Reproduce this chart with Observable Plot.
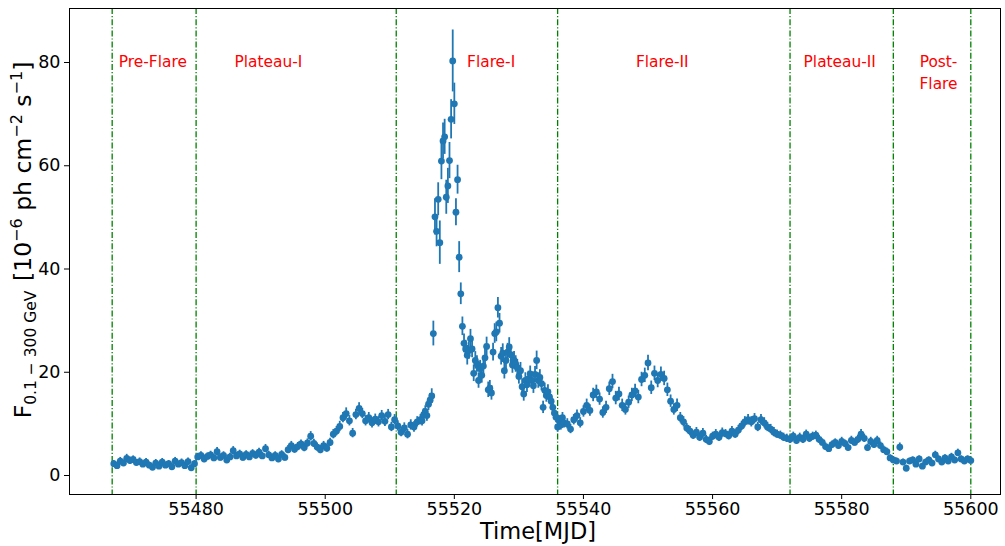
<!DOCTYPE html>
<html>
<head>
<meta charset="utf-8">
<script src="https://cdn.jsdelivr.net/npm/d3@7"></script>
<script src="https://cdn.jsdelivr.net/npm/@observablehq/plot@0.6"></script>
<style>
html, body { margin: 0; padding: 0; background: #fff; }
#chart svg { display: block; }
</style>
</head>
<body>
<div id="chart"></div>
<script>
// ---- Data (flux in 1e-6 ph cm^-2 s^-1) ----
// Each block: start MJD of first bin, bin width (days), flux values, 1-sigma errors.
const preFlareStart = 55467.25, preFlareStep = 0.5;
const preFlareFlux = [2.3,1.9,2.8,2.4,3.3,2.9,3.1,2.5,2.7,2.2,2.6,2.0,1.6,2.4,1.8,2.6,2.0,2.3,1.7,2.8,2.2,2.5,1.9,2.7,1.5,2.3];
const preFlareErr  = [0.6,0.6,0.7,0.6,0.8,0.7,0.7,0.6,0.7,0.6,0.7,0.6,0.6,0.7,0.6,0.7,0.6,0.6,0.6,0.7,0.6,0.7,0.6,0.7,0.6,0.6];

const plateau1Start = 55480.25, plateau1Step = 0.5;
const plateau1Flux = [3.6,3.9,3.2,3.7,4.0,3.4,4.6,3.5,3.9,3.0, 3.6,4.8,3.8,4.2,3.5,4.1,3.6,4.3,3.9,4.5,
                      3.8,5.2,4.0,3.4,3.9,3.2,4.1,3.5,5.0,5.8, 5.1,5.6,6.1,5.4,6.3,7.6,6.2,5.5,5.0,5.8,
                      5.3,6.4,8.0,8.6,9.5,11.2,12.0,10.6,8.2,11.8, 13.0,12.0,10.6,11.2,10.2,10.9,10.4,11.6,10.5,11.8,
                      9.4,10.8];
const plateau1Err  = [0.7,0.7,0.7,0.7,0.7,0.7,0.8,0.7,0.7,0.6, 0.7,0.8,0.7,0.7,0.7,0.7,0.7,0.7,0.7,0.8,
                      0.7,0.8,0.7,0.7,0.7,0.7,0.7,0.7,0.8,0.8, 0.8,0.8,0.8,0.8,0.8,0.9,0.8,0.8,0.8,0.8,
                      0.8,0.8,0.9,0.9,1.0,1.0,1.1,1.0,0.9,1.0, 1.1,1.0,1.0,1.0,1.0,1.0,1.0,1.0,1.0,1.0,
                      0.9,1.0];

const flare1OnsetStart = 55511.25, flare1OnsetStep = 0.5;
const flare1OnsetFlux = [9.6,8.4,9.2,8.0,9.8,9.4,10.4,10.8];
const flare1OnsetErr  = [1.0,0.9,1.0,0.9,1.0,1.0,1.0,1.0];

const flare1Start = 55515.0, flare1Step = 0.25;
const flare1Flux = [10.6,11.8,12.4,11.6,13.8,14.6,15.4,27.5,50.1,47.3,
                    53.5,45.1,60.9,64.8,65.6,53.9,56.1,61.0,69.0,80.3,
                    72.0,51.0,57.3,42.3,35.2,28.9,
                    25.6,24.5,23.3,24.2,26.5,24.5,19.8,22.3,21.6,18.4,
                    20.7,19.4,21.2,22.8,25.0,16.6,16.9,16.0,23.9,27.5,
                    27.8,32.5,29.5,23.1,23.7,20.3,22.3,23.9,24.9,23.4,
                    21.4,22.3,21.6,20.9,19.2,20.3,17.2,15.8,18.4,17.6,
                    18.7,19.7,18.4,17.4,19.6,22.3,18.4,19.0,17.8,13.2,
                    16.5,15.5,16.2,15.2,14.4,13.2,12.1,11.3,9.4,10.6,
                    9.8,11.2,10.2];
const flare1Err  = [1.0,1.1,1.1,1.1,1.2,1.3,1.4,2.4,3.5,3.0,
                    3.2,4.2,3.6,3.5,3.4,3.3,3.4,3.5,3.8,6.0,
                    4.0,2.6,2.8,3.0,2.1,1.8,
                    1.8,1.7,1.9,1.7,1.8,1.7,1.6,1.7,1.6,1.5,
                    1.6,1.5,1.6,1.7,1.8,1.5,1.5,1.4,1.7,1.9,
                    1.9,2.0,1.9,1.7,1.8,1.6,1.7,1.7,1.8,1.7,
                    1.6,1.7,1.6,1.6,1.5,1.6,1.5,1.4,1.5,1.5,
                    1.5,1.5,1.5,1.5,1.5,1.8,1.5,1.5,1.4,1.2,
                    1.4,1.3,1.4,1.3,1.3,1.2,1.1,1.1,1.0,1.0,
                    1.0,1.0,1.0];

const flare2Start = 55537.5, flare2Step = 0.5;
const flare2Flux = [10.0,9.0,10.8,11.6,10.2,12.4,13.6,12.6,15.6,16.2,
                    14.8,12.2,13.2,16.8,18.2,15.0,15.8,13.6,12.8,14.2,
                    15.6,16.4,15.2,18.6,19.4,21.8,17.0,19.8,18.4,19.6,
                    18.8,16.6,14.4,12.8,13.6,11.2,10.4,9.2,8.6,7.8,
                    8.4,7.4,8.2,7.0,6.6,7.6,8.0,7.4,8.3,8.1,
                    7.7,8.6,8.0,8.8,9.6,10.4,10.8,10.4,11.0,9.4,
                    10.8,10.2,9.4,9.0,8.4,8.0,7.8,7.4,7.2];
const flare2Err  = [1.0,0.9,1.0,1.1,1.0,1.1,1.2,1.1,1.3,1.3,
                    1.2,1.1,1.2,1.3,1.4,1.3,1.3,1.2,1.1,1.2,
                    1.3,1.3,1.3,1.4,1.4,1.5,1.3,1.4,1.4,1.4,
                    1.4,1.3,1.2,1.1,1.2,1.0,1.0,0.9,0.9,0.8,
                    0.9,0.8,0.9,0.8,0.8,0.8,0.9,0.8,0.9,0.8,
                    0.8,0.9,0.8,0.9,0.9,1.0,1.0,1.0,1.0,0.9,
                    1.0,1.0,0.9,0.9,0.9,0.8,0.8,0.8,0.8];

const plateau2Start = 55572.0, plateau2Step = 0.5;
const plateau2Flux = [7.0,7.6,6.8,7.4,7.0,8.0,7.2,7.6,7.8,7.0,
                      6.4,5.6,5.2,6.0,6.4,5.8,6.6,6.2,5.4,6.8,
                      6.4,7.0,8.0,7.2,5.4,6.6,6.0,6.8,5.8,5.0,
                      4.6,3.4];
const plateau2Err  = [0.8,0.8,0.8,0.8,0.8,0.8,0.8,0.8,0.8,0.8,
                      0.7,0.7,0.7,0.7,0.7,0.7,0.8,0.7,0.7,0.8,
                      0.7,0.8,0.9,0.8,0.7,0.8,0.7,0.8,0.7,0.7,
                      0.7,0.6];

const postFlareStart = 55588.0, postFlareStep = 0.5;
const postFlareFlux = [3.0,2.8,5.5,2.6,1.4,2.8,3.0,2.2,3.2,1.8,
                       2.6,3.0,2.4,4.0,3.2,2.6,3.4,2.8,3.6,3.0,
                       4.4,3.2,2.8,3.2,2.9];
const postFlareErr  = [0.6,0.6,0.8,0.6,0.6,0.6,0.6,0.6,0.6,0.6,
                       0.6,0.6,0.6,0.7,0.6,0.6,0.6,0.6,0.7,0.6,
                       0.7,0.6,0.6,0.6,0.6];

// Phase boundaries (MJD) and labels
const phaseBoundaries = [55467, 55480, 55511, 55536, 55572, 55588, 55600];
const phaseLabels = ["Pre-Flare", "Plateau-I", "Flare-I", "Flare-II", "Plateau-II", "Post-\nFlare"];
const phaseLabelX = [55473.3, 55491.2, 55525.7, 55552.2, 55579.7, 55595.0];
const phaseLabelY = [80, 80, 80, 80, 80, 80];

// Axis ticks
const xTicks = [55480, 55500, 55520, 55540, 55560, 55580, 55600];
const yTicks = [0, 20, 40, 60, 80];

// ---- Build table ----
const blocks = [
  [preFlareStart, preFlareStep, preFlareFlux, preFlareErr],
  [plateau1Start, plateau1Step, plateau1Flux, plateau1Err],
  [flare1OnsetStart, flare1OnsetStep, flare1OnsetFlux, flare1OnsetErr],
  [flare1Start, flare1Step, flare1Flux, flare1Err],
  [flare2Start, flare2Step, flare2Flux, flare2Err],
  [plateau2Start, plateau2Step, plateau2Flux, plateau2Err],
  [postFlareStart, postFlareStep, postFlareFlux, postFlareErr]
];
const points = blocks.flatMap(([t0, dt, flux, err]) =>
  flux.map((f, i) => ({t: t0 + i * dt, f, e: err[i]})));

const labelData = phaseLabels.map((text, i) => ({text, x: phaseLabelX[i], y: phaseLabelY[i]}));

const blue = "#1f77b4";

const chart = Plot.plot({
  width: 1005,
  height: 546,
  marginLeft: 69,
  marginRight: 5,
  marginTop: 8,
  marginBottom: 52,
  style: {fontFamily: "'DejaVu Sans', sans-serif", fontSize: "17.5px", background: "#fff", color: "#000", overflow: "visible"},
  x: {domain: [55460.39, 55604.6]},
  y: {domain: [-3.68, 90.46]},
  marks: [
    Plot.ruleX(phaseBoundaries, {stroke: "green", strokeWidth: 1.3, strokeDasharray: "6,2,1.2,2"}),
    Plot.ruleX(points, {x: "t", y1: d => d.f - d.e, y2: d => d.f + d.e, stroke: blue, strokeWidth: 1.8}),
    Plot.dot(points, {x: "t", y: "f", r: 3.4, fill: blue, stroke: "none"}),
    Plot.text(labelData, {x: "x", y: "y", text: "text", fill: "red", fontSize: 15.4,
      lineAnchor: "top", dy: -10.4, lineHeight: 1.4, textAnchor: "middle"}),
    Plot.axisX({ticks: xTicks, tickFormat: d => String(d), tickSize: 5, tickPadding: 3, fontSize: 17.5, label: null}),
    Plot.axisY({ticks: yTicks, tickFormat: d => String(d), tickSize: 5, tickPadding: 4, fontSize: 17.5, label: null}),
    Plot.frame({stroke: "#000", strokeWidth: 1})
  ]
});

document.getElementById("chart").appendChild(chart);

// Axis titles with sub/superscripts
const svg = d3.select(chart);
svg.append("text")
  .attr("x", 538).attr("y", 539)
  .attr("text-anchor", "middle")
  .attr("font-family", "'DejaVu Sans', sans-serif")
  .attr("font-size", 22.5)
  .attr("fill", "#000")
  .text("Time[MJD]");

const yl = svg.append("text")
  .attr("transform", "translate(31,240) rotate(-90)")
  .attr("text-anchor", "middle")
  .attr("font-family", "'DejaVu Sans', sans-serif")
  .attr("font-size", 23.5)
  .attr("fill", "#000");
const parts = [
  ["F", 0, null],
  ["0.1 \u2212 300 GeV", 5, 15.5],
  ["\u2009[10", -5, null],
  ["\u22126", -9.5, 16],
  [" ph cm", 9.5, null],
  ["\u22122", -9.5, 16],
  [" s", 9.5, null],
  ["\u22121", -9.5, 16],
  ["]", 9.5, null]
];
for (const [txt, dy, fs] of parts) {
  const ts = yl.append("tspan").attr("dy", dy).text(txt);
  if (fs) ts.attr("font-size", fs);
}
// small gap after the subscript, as in the reference
yl.selectAll("tspan").filter((d, i) => i === 2).attr("dx", 5);
</script>
</body>
</html>
